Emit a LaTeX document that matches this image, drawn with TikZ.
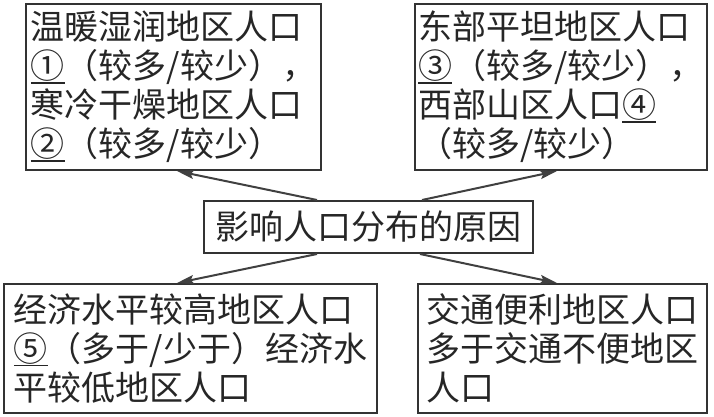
\documentclass[tikz,border=0pt]{standalone}
\usepackage{fontspec}
\newfontfamily\cjk{Noto Sans CJK SC}
\usetikzlibrary{arrows.meta}
\newcommand{\blank}[1]{\setbox0\hbox{#1}\rlap{\rule[-5pt]{\wd0}{1.6pt}}\box0}

\begin{document}
\begin{tikzpicture}[x=1pt, y=1pt,
    box/.style={draw=black!80, line width=2pt, align=left, inner sep=0pt, text=black!85,
        font=\fontsize{34pt}{39pt}\selectfont\cjk, anchor=north west},
    link/.style={draw=black!75, line width=2pt, -{Stealth[length=17pt,width=9pt,inset=3pt]}}]
    \useasboundingbox (0,0) rectangle (714,416);

    % les quatre cases
    \node[box, minimum width=295pt, minimum height=166pt] (warm) at (25,413)
        {温暖湿润地区人口\\\blank{①}（较多/较少），\\寒冷干燥地区人口\\\blank{②}（较多/较少）};
    \node[box, minimum width=292pt, minimum height=166pt] (east) at (414,413)
        {东部平坦地区人口\\\blank{③}（较多/较少），\\西部山区人口\blank{④}\\（较多/较少）};
    \node[box, minimum width=373pt, minimum height=129pt] (econ) at (3,133)
        {经济水平较高地区人口\\\blank{⑤}（多于/少于）经济水\\平较低地区人口};
    \node[box, minimum width=289pt, minimum height=129pt] (traffic) at (417,133)
        {交通便利地区人口\\多于交通不便地区\\人口};

    % case centrale
    \node[box, minimum width=329pt, minimum height=52pt] (cause) at (203,216) {影响人口分布的原因};

    \draw[link] ([xshift=114pt]cause.north west) -- ([xshift=152pt]warm.south west);
    \draw[link] ([xshift=-112pt]cause.north east) -- ([xshift=143pt]east.south west);
    \draw[link] ([xshift=114pt]cause.south west) -- ([xshift=174pt]econ.north west);
    \draw[link] ([xshift=-114pt]cause.south east) -- ([xshift=140pt]traffic.north west);
\end{tikzpicture}
\end{document}
